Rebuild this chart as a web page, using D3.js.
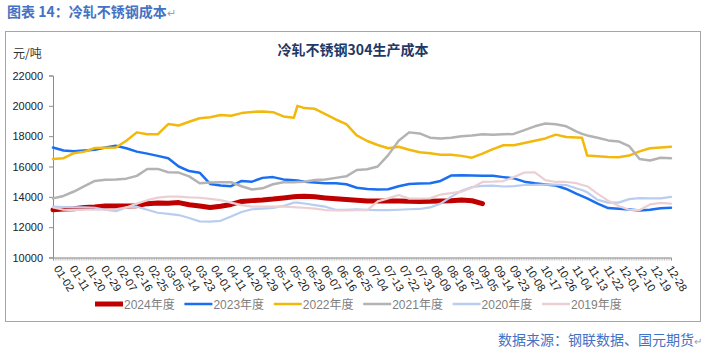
<!DOCTYPE html>
<html><head><meta charset="utf-8">
<script src="https://cdn.jsdelivr.net/npm/d3@7"></script>
<style>
body{margin:0;background:#fff;}
svg{display:block;}
</style>
</head><body>
<svg id="c" width="708" height="359"></svg>
<script>
// ---------- data ----------
const tickLabels = ["01-02","01-11","01-20","01-29","02-07","02-16","02-25","03-05","03-14","03-23",
  "04-01","04-11","04-20","04-29","05-11","05-20","05-29","06-07","06-16","06-25",
  "07-04","07-13","07-22","07-31","08-09","08-18","08-27","09-05","09-14","09-23",
  "10-08","10-17","10-26","11-04","11-13","11-22","12-01","12-10","12-19","12-28"];
const holidays = ["04-04","05-01","05-02","05-03","10-01","10-02","10-03","10-04","10-05","10-06"];
const yTicks = [10000,12000,14000,16000,18000,20000,22000];

const sampleDates = ["01-02","01-08","01-14","01-20","01-26","02-01","02-07","02-13","02-19","02-25",
  "03-02","03-08","03-14","03-20","03-26","04-01","04-08","04-14","04-20","04-26",
  "05-05","05-11","05-17","05-23","05-25","05-29","06-04","06-10","06-16","06-22",
  "06-28","07-04","07-10","07-16","07-22","07-28","08-03","08-09","08-15","08-21",
  "08-27","09-02","09-08","09-14","09-20","09-26","10-08","10-14","10-20","10-26",
  "11-01","11-07","11-10","11-13","11-19","11-25","12-01","12-07","12-13","12-19",
  "12-25","12-31"];

const s2024 = [13150,13200,13220,13300,13330,13400,13400,13400,13420,13550,13600,13580,13620,13480,13400,13300,13380,13500,13700,13750,13790,13850,13930,14000,
  14020,
  14040,14000,13930,13870,13820,13780,13720,13720,13720,13720,13710,13700,13710,13720,13740,13790,13740,13550,
  null,null,null,null,null,null,null,null,null,
  null,
  null,null,null,null,null,null,null,null,null];
const s2023 = [17250,17050,17000,17050,17100,17250,17370,17200,16980,16850,16700,16550,16000,15700,15590,14850,14750,14700,15050,15000,15250,15300,15150,15100,
  15080,
  15000,14950,14900,14900,14830,14600,14520,14480,14500,14700,14850,14880,14900,15050,15400,15420,15400,15390,15390,15300,15220,15000,14900,14820,14750,14520,14200,
  14050,
  13900,13550,13260,13220,13170,13100,13150,13250,13280];
const s2022 = [16500,16550,16880,16980,17220,17230,17250,17700,18250,18120,18120,18800,18700,18950,19180,19250,19400,19350,19520,19600,19620,19580,19300,19220,
  20000,
  19850,19800,19450,19100,18800,18050,17680,17420,17200,17300,17100,16940,16880,16780,16780,16700,16580,16850,17150,17400,17400,17550,17700,17850,18100,17950,17920,
  17900,
  16720,16680,16630,16610,16720,17000,17200,17250,17300];
const s2021 = [13900,14060,14350,14700,15050,15120,15150,15200,15380,15840,15840,15620,15600,15350,14900,14950,14960,14960,14700,14480,14560,14830,14960,14960,
  14980,
  15000,15110,15150,15250,15350,15770,15820,16000,16750,17700,18250,18180,17900,17850,17900,18000,18050,18120,18100,18120,18150,18400,18650,18830,18780,18650,18300,
  18150,
  18050,17900,17720,17650,17350,16500,16400,16580,16550];
const s2020 = [13350,13320,13300,13300,13280,13150,13050,13300,13350,13150,12950,12880,12800,12600,12380,12360,12420,12700,13000,13180,13220,13270,13400,13620,
  13620,
  13560,13450,13350,13150,13140,13180,13140,13130,13130,13150,13180,13200,13300,13550,14000,14400,14650,14720,14740,14680,14700,14780,14790,14800,14800,14780,14550,
  14450,
  14300,13800,13620,13620,13850,13920,13900,13900,14000];
const s2019 = [13300,13150,13130,13150,13150,13150,13180,13300,13550,13780,13950,14010,14010,13960,13940,13870,13780,13620,13450,13360,13350,13350,13350,13320,
  13300,
  13280,13220,13130,13110,13100,13130,13130,13700,13900,14120,13880,13880,13900,14150,14250,14340,14600,14980,15000,15040,15300,15600,15620,15100,14980,14980,14900,
  14780,
  14700,14200,13750,13400,13150,13130,13500,13600,13550];

const seriesNames = ["2024年度","2023年度","2022年度","2021年度","2020年度","2019年度"];
const seriesValues = [s2024,s2023,s2022,s2021,s2020,s2019];
const seriesColors = ["#c00000","#1a6ff0","#f2b80c","#b3b3b3","#b9cdf0","#ebcfd2"];
const seriesWidths = [5,2.5,2.5,2.5,2.2,2.2];

// full category list: every calendar day of 2024 from 01-02 except holidays
const categories = d3.utcDay.range(new Date(Date.UTC(2024,0,2)), new Date(Date.UTC(2025,0,1)))
  .map(d3.utcFormat("%m-%d")).filter(s => !holidays.includes(s));

// ---------- layout ----------
const svg = d3.select("#c");
const L = 53, R = 671, T = 75.5, B = 257.5;
const x = d3.scalePoint().domain(categories).range([L, R]);
const y = d3.scaleLinear().domain([10000, 22000]).range([B, T]);

const cjk = "'Noto Sans CJK SC','Liberation Sans',Arial,sans-serif";
const lat = "'Liberation Sans',Arial,'Noto Sans CJK SC',sans-serif";

// outer frame
svg.append("rect").attr("x",5.5).attr("y",31.5).attr("width",695).attr("height",290)
  .attr("fill","none").attr("stroke","#a6a6a6").attr("stroke-width",1);

// top title
const tt = svg.append("text").attr("x",7).attr("y",17).attr("font-family",cjk)
  .attr("font-size",14).attr("font-weight","bold").attr("fill","#4472c4");
tt.append("tspan").text("图表 14：冷轧不锈钢成本");
tt.append("tspan").attr("fill","#a0a0a0").attr("font-weight","normal").attr("font-size",11).text("↵");

// footer
const ft = svg.append("text").attr("x",702).attr("y",345).attr("text-anchor","end").attr("font-family",cjk)
  .attr("font-size",14).attr("fill","#4472c4");
ft.append("tspan").text("数据来源：钢联数据、国元期货");
ft.append("tspan").attr("fill","#a0a0a0").attr("font-size",10).text("↵");

// chart title
svg.append("text").attr("x",353).attr("y",55).attr("text-anchor","middle").attr("font-family",cjk)
  .attr("font-size",14).attr("font-weight","bold").attr("fill","#1f3864").text("冷轧不锈钢304生产成本");

// unit
svg.append("text").attr("x",13).attr("y",58).attr("font-family",cjk).attr("font-size",12)
  .attr("fill","#333").text("元/吨");

// y axis
const ya = svg.append("g").attr("transform",`translate(${L},0)`)
  .call(d3.axisLeft(y).tickValues(yTicks).tickSize(4).tickPadding(6).tickFormat(d3.format("d")));
ya.select(".domain").attr("stroke","#8c8c8c");
ya.selectAll(".tick line").attr("stroke","#8c8c8c");
ya.selectAll("text").attr("font-family",lat).attr("font-size",11).attr("fill","#222");

// x axis minor ticks (one per category)
const xa = svg.append("g").attr("transform",`translate(0,${B})`)
  .call(d3.axisBottom(x).tickValues(categories).tickSize(3).tickFormat(""));
xa.select(".domain").attr("stroke","#8c8c8c");
xa.selectAll(".tick line").attr("stroke","#a0a0a0").attr("stroke-width",0.6);

// x labels
const xl = svg.append("g").attr("transform",`translate(0,${B})`)
  .call(d3.axisBottom(x).tickValues(tickLabels).tickSize(0).tickFormat(d=>d));
xl.select(".domain").remove();
xl.selectAll("text").attr("font-family",lat).attr("font-size",11).attr("fill","#222")
  .attr("text-anchor","start").attr("dy",null).attr("y",null)
  .attr("transform","translate(0,11) rotate(58)");

// lines
const line = d3.line().defined(d => d.v != null).x(d => x(d.date)).y(d => y(d.v));
seriesValues.forEach((vals, i) => {
  const pts = sampleDates.map((date, j) => ({date, v: vals[j]}));
  svg.append("path").datum(pts).attr("d", line).attr("fill","none")
    .attr("stroke", seriesColors[i]).attr("stroke-width", seriesWidths[i])
    .attr("stroke-linejoin","round").attr("stroke-linecap","round");
});

// legend
const lg = svg.append("g").attr("transform","translate(95,304)");
seriesNames.forEach((n, i) => {
  const g = lg.append("g").attr("transform",`translate(${i*89.4},0)`);
  g.append("line").attr("x1",0).attr("x2",28).attr("y1",0).attr("y2",0)
    .attr("stroke",seriesColors[i]).attr("stroke-width",i===0?5:2.5);
  g.append("text").attr("x",29).attr("y",4.5).attr("font-family",lat).attr("font-size",12)
    .attr("fill","#7f7f7f").text(n);
});
</script>
</body></html>
